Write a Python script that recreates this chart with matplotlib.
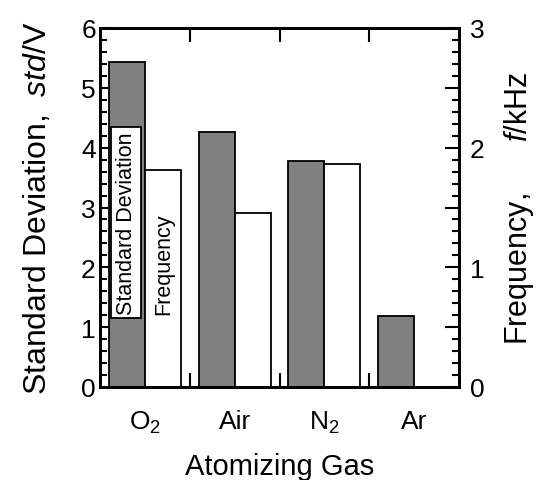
import matplotlib
matplotlib.use("Agg")
import matplotlib.pyplot as plt
from matplotlib.ticker import MultipleLocator, FuncFormatter, FixedLocator
import numpy as np

plt.rcParams['font.family'] = ['Liberation Sans', 'DejaVu Sans']
plt.rcParams['mathtext.fontset'] = 'custom'
plt.rcParams['mathtext.rm'] = 'Liberation Sans'
plt.rcParams['mathtext.it'] = 'Liberation Sans:italic'

categories = ["O$_2$", "Air", "N$_2$", "Ar"]
std_values = [5.44, 4.27, 3.77, 1.19]          # std / V (left axis)
freq_values = [1.815, 1.457, 1.86, np.nan]    # f / kHz (right axis)

fig = plt.figure(figsize=(5.44, 4.81), dpi=100)
ax = fig.add_axes([100/544, 93/481, 359/544, 359/481])
ax2 = ax.twinx()

x = np.arange(len(categories))
w = 0.4
ax.bar(x - w/2, std_values, width=w, color='#808080', edgecolor='black', linewidth=1.3, zorder=2)
ax2.bar(x + w/2, freq_values, width=w, color='white', edgecolor='black', linewidth=1.3, zorder=2)

ax.set_xlim(-0.5, 3.5)
ax.set_ylim(0, 6)
ax2.set_ylim(0, 3)

ax.set_xticks(x)
ax.set_xticklabels(categories)
ax.xaxis.set_minor_locator(FixedLocator([0.5, 1.5, 2.5]))
ax.tick_params(axis='x', which='major', length=0, labelsize=19, pad=16)
ax.tick_params(axis='x', which='minor', direction='in', length=10, width=1.5, top=True, bottom=True)

ax.yaxis.set_major_locator(MultipleLocator(1))
ax.yaxis.set_minor_locator(MultipleLocator(0.2))
ax.tick_params(axis='y', which='major', direction='in', length=10, width=1.5, labelsize=19, pad=3)
ax.tick_params(axis='y', which='minor', direction='in', length=5, width=1.5)

ax2.yaxis.set_major_locator(MultipleLocator(0.5))
ax2.yaxis.set_minor_locator(MultipleLocator(0.1))
ax2.yaxis.set_major_formatter(FuncFormatter(lambda v, p: f"{int(round(v))}" if abs(v - round(v)) < 1e-6 else ""))
ax2.tick_params(axis='y', which='major', direction='in', length=10, width=1.5, labelsize=19, pad=8)
ax2.tick_params(axis='y', which='minor', direction='in', length=5, width=1.5)

for a in (ax, ax2):
    for s in a.spines.values():
        s.set_linewidth(2)

ax.set_xlabel("Atomizing Gas", fontsize=21, labelpad=12)
ax.set_ylabel("Standard Deviation,  $\\mathit{std}$/V", fontsize=23, labelpad=20)
ax2.set_ylabel("Frequency,      $\\mathit{f}$/kHz", fontsize=22, labelpad=12)

ax.text(-0.21, 1.22, "Standard Deviation", rotation=90, ha='center', va='bottom',
        fontsize=15.5, zorder=5,
        bbox=dict(boxstyle='square,pad=0.2', facecolor='white', edgecolor='black', linewidth=1.3))
ax2.text(0.215, 0.61, "Frequency", rotation=90, ha='center', va='bottom', fontsize=15.5, zorder=5)

fig.savefig("out.png", dpi=100)
